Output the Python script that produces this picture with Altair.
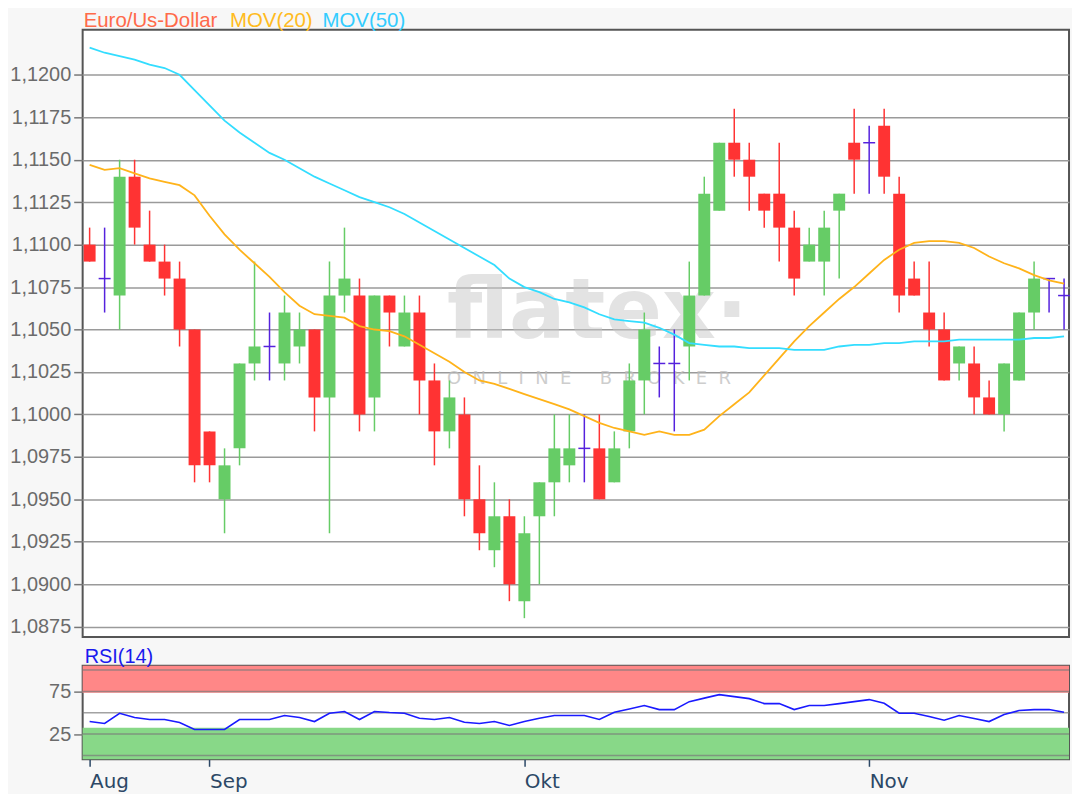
import altair as alt
import pandas as pd
import numpy as np

# ---------------- data ----------------
day_index = list(range(66))
opens = [1.1100, 1.1080, 1.1070, 1.1140, 1.1100, 1.1090, 1.1080, 1.1050, 1.0990, 1.0950,
         1.0980, 1.1030, 1.1040, 1.1030, 1.1040, 1.1050, 1.1010, 1.1070, 1.1070, 1.1010,
         1.1070, 1.1040, 1.1060, 1.1020, 1.0990, 1.1000, 1.0950, 1.0920, 1.0940, 1.0890,
         1.0940, 1.0960, 1.0970, 1.0980, 1.0980, 1.0960, 1.0990, 1.1020, 1.1030, 1.1030,
         1.1040, 1.1070, 1.1120, 1.1160, 1.1150, 1.1130, 1.1130, 1.1110, 1.1090, 1.1090,
         1.1120, 1.1160, 1.1160, 1.1170, 1.1130, 1.1080, 1.1060, 1.1050, 1.1030, 1.1030,
         1.1010, 1.1000, 1.1020, 1.1060, 1.1080, 1.1070]
highs = [1.1110, 1.1110, 1.1150, 1.1150, 1.1120, 1.1100, 1.1090, 1.1050, 1.0990, 1.0980,
         1.1030, 1.1090, 1.1060, 1.1070, 1.1060, 1.1050, 1.1090, 1.1110, 1.1080, 1.1070,
         1.1070, 1.1070, 1.1070, 1.1030, 1.1020, 1.1010, 1.0970, 1.0960, 1.0950, 1.0940,
         1.0960, 1.1000, 1.1000, 1.1000, 1.1000, 1.0990, 1.1030, 1.1060, 1.1040, 1.1050,
         1.1090, 1.1140, 1.1160, 1.1180, 1.1160, 1.1130, 1.1160, 1.1120, 1.1110, 1.1120,
         1.1130, 1.1180, 1.1170, 1.1180, 1.1140, 1.1090, 1.1090, 1.1060, 1.1040, 1.1040,
         1.1020, 1.1030, 1.1060, 1.1090, 1.1080, 1.1080]
lows = [1.1090, 1.1060, 1.1050, 1.1100, 1.1090, 1.1070, 1.1040, 1.0960, 1.0960, 1.0930,
        1.0970, 1.1020, 1.1020, 1.1020, 1.1030, 1.0990, 1.0930, 1.1060, 1.0990, 1.0990,
        1.1040, 1.1040, 1.1000, 1.0970, 1.0980, 1.0940, 1.0920, 1.0910, 1.0890, 1.0880,
        1.0900, 1.0940, 1.0960, 1.0960, 1.0950, 1.0960, 1.0980, 1.1000, 1.1010, 1.0990,
        1.1020, 1.1070, 1.1120, 1.1140, 1.1120, 1.1110, 1.1090, 1.1070, 1.1090, 1.1070,
        1.1080, 1.1130, 1.1130, 1.1130, 1.1060, 1.1070, 1.1040, 1.1020, 1.1020, 1.1000,
        1.1000, 1.0990, 1.1020, 1.1050, 1.1060, 1.1050]
closes = [1.1090, 1.1080, 1.1140, 1.1110, 1.1090, 1.1080, 1.1050, 1.0970, 1.0970, 1.0970,
          1.1030, 1.1040, 1.1040, 1.1060, 1.1050, 1.1010, 1.1070, 1.1080, 1.1000, 1.1070,
          1.1060, 1.1060, 1.1020, 1.0990, 1.1010, 1.0950, 1.0930, 1.0940, 1.0900, 1.0930,
          1.0960, 1.0980, 1.0980, 1.0980, 1.0950, 1.0980, 1.1020, 1.1050, 1.1030, 1.1030,
          1.1070, 1.1130, 1.1160, 1.1150, 1.1140, 1.1120, 1.1110, 1.1080, 1.1100, 1.1110,
          1.1130, 1.1150, 1.1160, 1.1140, 1.1070, 1.1070, 1.1050, 1.1020, 1.1040, 1.1010,
          1.1000, 1.1030, 1.1060, 1.1080, 1.1080, 1.1070]
mov20 = [1.1147, 1.1144, 1.1145, 1.1142, 1.1139, 1.1137, 1.1135, 1.1129, 1.1117, 1.1106,
         1.1097, 1.1089, 1.1081, 1.1072, 1.1064, 1.1059, 1.1058, 1.1057, 1.1052, 1.1050,
         1.1049, 1.1046, 1.1041, 1.1036, 1.1031, 1.1025, 1.1020, 1.1018, 1.1015, 1.1012,
         1.1009, 1.1006, 1.1003, 1.0999, 1.0995, 1.0992, 1.0990, 1.0988, 1.0990, 1.0988,
         1.0988, 1.0991, 1.0999, 1.1006, 1.1013, 1.1023, 1.1033, 1.1043, 1.1052, 1.1060,
         1.1068, 1.1075, 1.1083, 1.1091, 1.1097, 1.1101, 1.1102, 1.1102, 1.1101, 1.1098,
         1.1093, 1.1089, 1.1086, 1.1082, 1.1079, 1.1077]
mov50 = [1.1216, 1.1213, 1.1211, 1.1209, 1.1206, 1.1204, 1.1200, 1.1191, 1.1182, 1.1173,
         1.1166, 1.1160, 1.1154, 1.1150, 1.1145, 1.1140, 1.1136, 1.1132, 1.1128, 1.1125,
         1.1122, 1.1118, 1.1113, 1.1108, 1.1103, 1.1098, 1.1093, 1.1088, 1.1080, 1.1075,
         1.1072, 1.1068, 1.1066, 1.1063, 1.1059, 1.1056, 1.1055, 1.1054, 1.1051, 1.1047,
         1.1042, 1.1041, 1.1040, 1.1040, 1.1039, 1.1039, 1.1039, 1.1038, 1.1038, 1.1038,
         1.1040, 1.1041, 1.1041, 1.1042, 1.1042, 1.1043, 1.1043, 1.1043, 1.1044, 1.1044,
         1.1044, 1.1044, 1.1044, 1.1045, 1.1045, 1.1046]
rsi14 = [39.7, 37.4, 49.4, 44.4, 42.1, 42.1, 38.6, 30.4, 30.4, 30.4,
         42.1, 42.1, 42.1, 46.7, 44.4, 39.7, 49.4, 51.4, 42.1, 51.4,
         50.2, 49.4, 43.6, 42.1, 44.4, 38.9, 37.4, 39.7, 35.1, 39.7,
         43.6, 46.7, 46.7, 46.7, 42.1, 50.6, 54.3, 58.4, 53.7, 53.7,
         63.0, 67.1, 71.2, 68.9, 66.5, 60.7, 60.7, 53.7, 58.4, 58.4,
         60.7, 63.0, 65.4, 61.1, 49.4, 49.4, 45.6, 41.2, 46.7, 43.2,
         39.7, 47.9, 52.6, 53.7, 53.7, 50.6]

price_ticks = [1.0875, 1.0900, 1.0925, 1.0950, 1.0975, 1.1000, 1.1025, 1.1050,
               1.1075, 1.1100, 1.1125, 1.1150, 1.1175, 1.1200]
month_pos = [0, 8, 29, 52]
month_names = ["Aug", "Sep", "Okt", "Nov"]
rsi_ticks = [25, 75]
rsi_levels = [0, 25, 50, 75, 100]
zone_low = [73.5, -4.5]
zone_high = [105, 32.5]
zone_colors = ["#ff8787", "#88d888"]
title_parts = ["Euro/Us-Dollar", "MOV(20)", "MOV(50)"]
title_colors = ["#ff6a4a", "#ffbb22", "#33ccff"]
NB = "\u00a0"
watermark = ["flatex\u00b7",
             (NB * 2).join("ONLINE") + NB * 5 + (NB * 2).join("BROKER")]

# ---------------- layout constants ----------------
W = 991
H_MAIN = 610
H_RSI = 94
FONT = "Liberation Sans"

df = pd.DataFrame({"i": day_index, "open": opens, "high": highs, "low": lows,
                   "close": closes, "ma20": mov20, "ma50": mov50, "rsi": rsi14})
df["dir"] = np.where(df["close"] > df["open"], "up",
                     np.where(df["close"] < df["open"], "down", "doji"))

xs = alt.Scale(domain=[-0.465, 65.33], nice=False, zero=False, padding=0)
ys = alt.Scale(domain=[1.086897, 1.122654], nice=False, zero=False, padding=0)
cs = alt.Scale(domain=["up", "down", "doji"], range=["#66cc66", "#ff3333", "#5522dd"])

y_axis = alt.Axis(values=price_ticks, title=None,
                  labelExpr="replace(format(datum.value, '.4f'), '.', ',')",
                  grid=True, gridColor="#9a9a9a", gridWidth=1.5, domain=False,
                  tickColor="#777777", tickWidth=1.5, tickSize=9,
                  labelFont=FONT, labelFontSize=20, labelColor="#6b6b6b", labelPadding=3)

X = alt.X("i:Q", scale=xs, axis=None)


def Y(field):
    return alt.Y(f"{field}:Q", scale=ys, axis=y_axis)


base = alt.Chart(df)

wm1 = alt.Chart(pd.DataFrame({"t": [watermark[0]]})).mark_text(
    font="DejaVu Sans", fontSize=84, fontWeight="bold", color="#c8c8c8", opacity=0.5,
    align="left", baseline="alphabetic").encode(
    text="t:N", x=alt.value(366), y=alt.value(310))
wm2 = alt.Chart(pd.DataFrame({"t": [watermark[1]]})).mark_text(
    font="DejaVu Sans", fontSize=18, color="#bdbdbd", opacity=0.75,
    align="left", baseline="alphabetic").encode(
    text="t:N", x=alt.value(366), y=alt.value(356))

wicks = base.mark_rule(strokeWidth=1.5).encode(
    x=X, y=Y("low"), y2="high:Q",
    color=alt.Color("dir:N", scale=cs, legend=None))
bodies = base.transform_filter("datum.dir != 'doji'").mark_bar(size=12).encode(
    x=X, y=Y("open"), y2="close:Q",
    color=alt.Color("dir:N", scale=cs, legend=None))
dojis = base.transform_filter("datum.dir == 'doji'").mark_rule(
    strokeWidth=1.5, xOffset=-6, x2Offset=6).encode(
    x=X, x2="i:Q", y=Y("open"),
    color=alt.Color("dir:N", scale=cs, legend=None))
line20 = base.mark_line(color="#ffb31a", strokeWidth=1.8).encode(x=X, y=Y("ma20"))
line50 = base.mark_line(color="#33ddff", strokeWidth=1.8).encode(x=X, y=Y("ma50"))

tdf = pd.DataFrame({"t": title_parts, "c": title_colors, "px": [1, 148, 241]})
titles = alt.Chart(tdf).mark_text(font=FONT, fontSize=20.5, align="left",
                                  baseline="top").encode(
    text="t:N", x=alt.X("px:Q", scale=None), y=alt.value(-19),
    fill=alt.Fill("c:N", scale=None, legend=None))

main = alt.layer(wm1, wm2, wicks, bodies, dojis, line20, line50, titles).properties(
    width=W, height=H_MAIN)

# ---------------- RSI panel ----------------
rs = alt.Scale(domain=[-4.5, 105], nice=False, zero=False)
rsi_axis = alt.Axis(values=rsi_ticks, title=None, grid=False, domain=False,
                    tickColor="#777777", tickWidth=1.5, tickSize=9,
                    labelFont=FONT, labelFontSize=20, labelColor="#6b6b6b", labelPadding=3)
month_expr = " : ".join(
    [f"datum.value == {p} ? '{n}'" for p, n in zip(month_pos, month_names)]) + " : ''"
x_axis = alt.Axis(values=month_pos, labelExpr=month_expr, title=None, grid=False,
                  domain=False, tickColor="#2c4866", tickWidth=1.5, tickSize=7,
                  labelFont="DejaVu Sans", labelFontSize=20, labelColor="#2c4866",
                  labelAlign="left", labelPadding=5)

zdf = pd.DataFrame({"lo": zone_low, "hi": zone_high, "c": zone_colors})
zones = alt.Chart(zdf).mark_rect().encode(
    x=alt.value(0), x2=alt.value(W),
    y=alt.Y("lo:Q", scale=rs, axis=rsi_axis), y2="hi:Q",
    fill=alt.Fill("c:N", scale=None, legend=None))
levels = alt.Chart(pd.DataFrame({"v": rsi_levels})).mark_rule(
    color="#7a7a7a", opacity=0.7, strokeWidth=1.5).encode(
    y=alt.Y("v:Q", scale=rs, axis=rsi_axis))
rsi_line = base.mark_line(color="#1a1aff", strokeWidth=1.6).encode(
    x=alt.X("i:Q", scale=xs, axis=x_axis),
    y=alt.Y("rsi:Q", scale=rs, axis=rsi_axis))
rsi_title = alt.Chart(pd.DataFrame({"t": ["RSI(14)"]})).mark_text(
    font=FONT, fontSize=20, align="left", baseline="alphabetic", color="#1a1aee").encode(
    text="t:N", x=alt.value(2), y=alt.value(-3))

rsi_panel = alt.layer(zones, levels, rsi_line, rsi_title).properties(width=W, height=H_RSI)

chart = alt.vconcat(main, rsi_panel, spacing=8).properties(
    padding={"left": 0, "top": 0, "right": 0, "bottom": 0},
    background="#f7f7f7"
).configure_view(
    stroke="#555555", strokeWidth=2, fill="white"
)

chart.save("out.html", embed_options={"renderer": "svg", "actions": False})
